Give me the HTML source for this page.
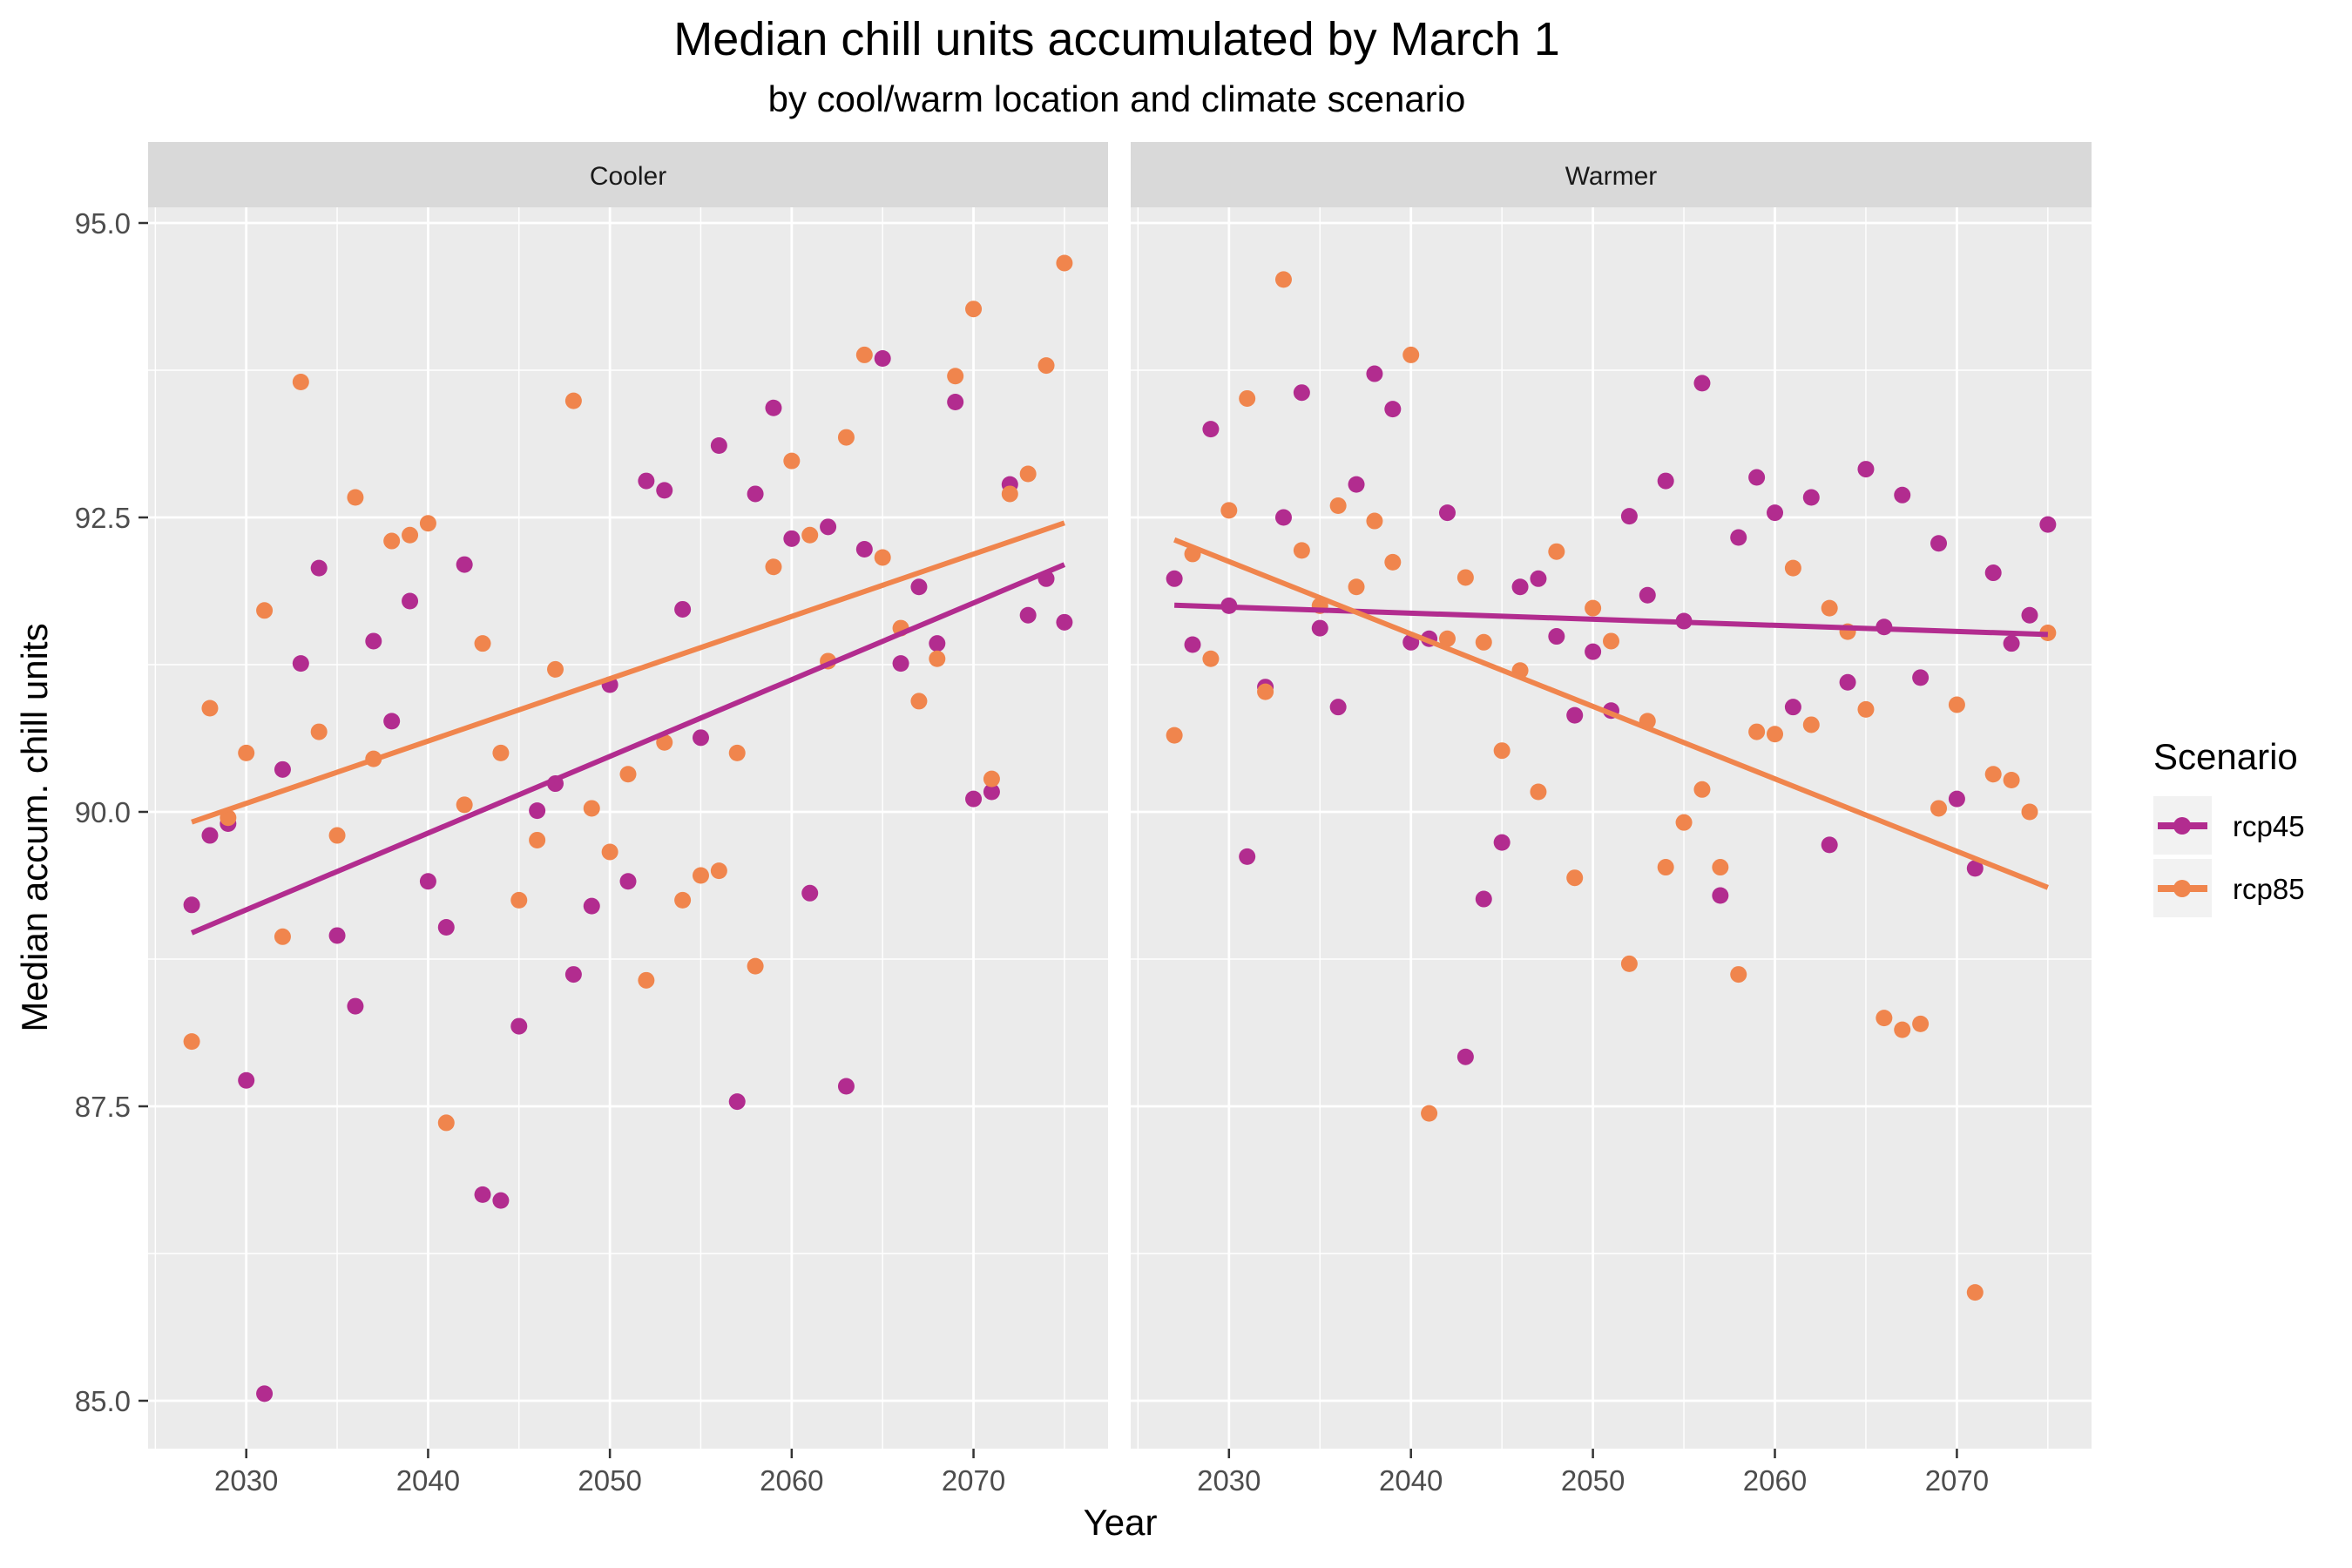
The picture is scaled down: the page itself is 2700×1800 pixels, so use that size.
<!DOCTYPE html>
<html><head><meta charset="utf-8"><style>
html,body{margin:0;padding:0;background:#fff;}
svg{display:block;font-family:"Liberation Sans",sans-serif;}
</style></head><body>
<svg id="chart" width="2700" height="1800" viewBox="0 0 2700 1800" xmlns="http://www.w3.org/2000/svg">
<text x="1282" y="63" font-size="54" text-anchor="middle" fill="#000">Median chill units accumulated by March 1</text>
<text x="1282" y="128" font-size="42" text-anchor="middle" fill="#000">by cool/warm location and climate scenario</text>
<g id="panels"></g>
<text x="1286" y="1762" font-size="42" text-anchor="middle" fill="#000">Year</text>
<text transform="translate(54,950) rotate(-90)" font-size="42" text-anchor="middle" fill="#000">Median accum. chill units</text>
<g>
<text x="2472" y="883" font-size="42" fill="#000">Scenario</text>
<g>
<rect x="2472" y="914" width="67" height="67" fill="#f2f2f2"/>
<line x1="2477" y1="948" x2="2534" y2="948" stroke="#B22C8F" stroke-width="8"/>
<circle cx="2505" cy="948" r="10" fill="#B22C8F"/>
<text x="2563" y="960" font-size="33" fill="#000">rcp45</text>
</g>
<g>
<rect x="2472" y="986" width="67" height="67" fill="#f2f2f2"/>
<line x1="2477" y1="1020" x2="2534" y2="1020" stroke="#F0854D" stroke-width="8"/>
<circle cx="2505" cy="1020" r="10" fill="#F0854D"/>
<text x="2563" y="1032" font-size="33" fill="#000">rcp85</text>
</g>
</g>
</svg>
<script>
const years = [];
for (let y = 2027; y <= 2075; y++) years.push(y);
const coolerRcp45 = [89.21,89.8,89.9,87.72,85.06,90.36,91.26,92.07,88.95,88.35,91.45,90.77,91.79,89.41,89.02,92.1,86.75,86.7,88.18,90.01,90.24,88.62,89.2,91.08,89.41,92.81,92.73,91.72,90.63,93.11,87.54,92.7,93.43,92.32,89.31,92.42,87.67,92.23,93.85,91.26,91.91,91.43,93.48,90.11,90.17,92.78,91.67,91.98,91.61];
const coolerRcp85 = [88.05,90.88,89.95,90.5,91.71,88.94,93.65,90.68,89.8,92.67,90.45,92.3,92.35,92.45,87.36,90.06,91.43,90.5,89.25,89.76,91.21,93.49,90.03,89.66,90.32,88.57,90.59,89.25,89.46,89.5,90.5,88.69,92.08,92.98,92.35,91.28,93.18,93.88,92.16,91.56,90.94,91.3,93.7,94.27,90.28,92.7,92.87,93.79,94.66];
const warmerRcp45 = [91.98,91.42,93.25,91.75,89.62,91.06,92.5,93.56,91.56,90.89,92.78,93.72,93.42,91.44,91.47,92.54,87.92,89.26,89.74,91.91,91.98,91.49,90.82,91.36,90.86,92.51,91.84,92.81,91.62,93.64,89.29,92.33,92.84,92.54,90.89,92.67,89.72,91.1,92.91,91.57,92.69,91.14,92.28,90.11,89.52,92.03,91.43,91.67,92.44];
const warmerRcp85 = [90.65,92.19,91.3,92.56,93.51,91.02,94.52,92.22,91.75,92.6,91.91,92.47,92.12,93.88,87.44,91.47,91.99,91.44,90.52,91.2,90.17,92.21,89.44,91.73,91.45,88.71,90.77,89.53,89.91,90.19,89.53,88.62,90.68,90.66,92.07,90.74,91.73,91.53,90.87,88.25,88.15,88.2,90.03,90.91,85.92,90.32,90.27,90.0,91.52];
const xTicks = [2030,2040,2050,2060,2070];
const yTicks = [85.0,87.5,90.0,92.5,95.0];
const panelNames = ["Cooler","Warmer"];

const NS = "http://www.w3.org/2000/svg";
const COL45 = "#B22C8F", COL85 = "#F0854D";
const plotTop = 238, plotBottom = 1663;
function yScale(v){ return 256 + (95 - v) * 135.2; }
function mk(tag, attrs, parent){
  const e = document.createElementNS(NS, tag);
  for (const k in attrs) e.setAttribute(k, attrs[k]);
  parent.appendChild(e); return e;
}
function fit(xs, ys){
  const n = xs.length; let mx=0,my=0;
  for (let i=0;i<n;i++){mx+=xs[i];my+=ys[i];}
  mx/=n; my/=n; let sxy=0,sxx=0;
  for (let i=0;i<n;i++){sxy+=(xs[i]-mx)*(ys[i]-my);sxx+=(xs[i]-mx)**2;}
  const b=sxy/sxx; return [my-b*mx,b];
}
const root = document.getElementById("panels");
const panels = [
  {left:170, right:1272, s45:coolerRcp45, s85:coolerRcp85, key:"cooler"},
  {left:1298, right:2401, s45:warmerRcp45, s85:warmerRcp85, key:"warmer"}
];
panels.forEach((p, pi) => {
  const xMin = 2024.6, xMax = 2077.4;
  const xScale = v => p.left + (v - xMin) / (xMax - xMin) * (p.right - p.left);
  const g = mk("g", {}, root);
  
  
  mk("rect", {x:p.left, y:plotTop, width:p.right-p.left, height:plotBottom-plotTop, fill:"#ebebeb"}, g);
  [86.25,88.75,91.25,93.75].forEach(v => mk("line",{x1:p.left,x2:p.right,y1:yScale(v),y2:yScale(v),stroke:"#fff","stroke-width":1.4},g));
  [2025,2035,2045,2055,2065,2075].forEach(v => mk("line",{x1:xScale(v),x2:xScale(v),y1:plotTop,y2:plotBottom,stroke:"#fff","stroke-width":1.4},g));
  yTicks.forEach(v => mk("line",{x1:p.left,x2:p.right,y1:yScale(v),y2:yScale(v),stroke:"#fff","stroke-width":2.8},g));
  xTicks.forEach(v => {
    mk("line",{x1:xScale(v),x2:xScale(v),y1:plotTop,y2:plotBottom,stroke:"#fff","stroke-width":2.8},g);
    mk("line",{x1:xScale(v),x2:xScale(v),y1:plotBottom,y2:plotBottom+11,stroke:"#333","stroke-width":2.5},g);
    const t = mk("text",{x:xScale(v),y:1711,"font-size":33,"text-anchor":"middle",fill:"#4d4d4d"},g);
    t.textContent = v;
    
    
  });
  if (pi === 0) {
    yTicks.forEach(v => {
      mk("line",{x1:p.left-11,x2:p.left,y1:yScale(v),y2:yScale(v),stroke:"#333","stroke-width":2.5},g);
      const t = mk("text",{x:p.left-20,y:yScale(v)+12,"font-size":33,"text-anchor":"end",fill:"#4d4d4d"},g);
      t.textContent = v.toFixed(1);
      
      
    });
  }
  const strip = mk("rect",{x:p.left,y:163,width:p.right-p.left,height:75,fill:"#d9d9d9"},g);
  
  
  const st = mk("text",{x:(p.left+p.right)/2,y:212,"font-size":30,"text-anchor":"middle",fill:"#1a1a1a"},g);
  st.textContent = panelNames[pi];
  
  
  [[p.s45,COL45,"rcp45"],[p.s85,COL85,"rcp85"]].forEach(([s,c,n]) => {
    s.forEach((v,i) => {
      const pt = mk("circle",{cx:xScale(years[i]),cy:yScale(v),r:9.5,fill:c},g);
      
      
    });
  });
  [[p.s45,COL45,"rcp45"],[p.s85,COL85,"rcp85"]].forEach(([s,c,n]) => {
    const [a,b] = fit(years, s);
    const x0 = years[0], x1 = years[years.length-1];
    const ln = mk("line",{x1:xScale(x0),y1:yScale(a+b*x0),x2:xScale(x1),y2:yScale(a+b*x1),stroke:c,"stroke-width":6},g);
    
    
  });
});
</script>
</body></html>
